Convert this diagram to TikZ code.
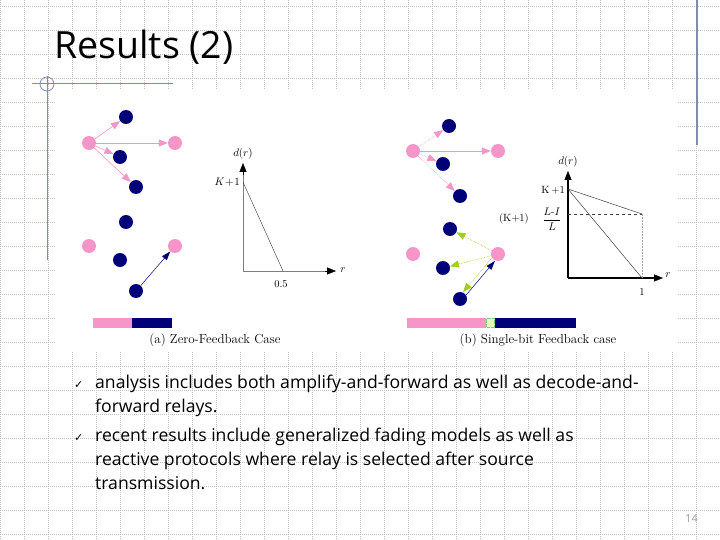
\documentclass[tikz,border=0pt]{standalone}
\usepackage{amsmath}
\usepackage{fontspec}
\usetikzlibrary{arrows.meta}
\newfontfamily\slidefont{Open Sans}
\newfontfamily\symfont{DejaVu Sans}
\definecolor{pnk}{RGB}{246,150,200}
\definecolor{nvy}{RGB}{0,0,120}
\definecolor{grn}{RGB}{160,205,30}
\definecolor{gridc}{RGB}{195,195,195}
\definecolor{rulec}{RGB}{125,140,175}
\definecolor{pagenum}{RGB}{160,160,160}
\begin{document}
\begin{tikzpicture}[x=1pt,y=-1pt,
  pnode/.style={circle,fill=pnk,minimum size=14pt,inner sep=0pt},
  nnode/.style={circle,fill=nvy,minimum size=14pt,inner sep=0pt},
  parr/.style={draw=pnk,line width=0.6pt,-{Triangle[length=9pt,width=7pt]}},
  pdarr/.style={draw=pnk,line width=0.6pt,densely dotted,-{Triangle[length=9pt,width=7pt]}},
  narr/.style={draw=nvy,line width=0.5pt,-{Triangle[length=9pt,width=6pt]}},
  garr/.style={draw=grn,line width=0.6pt,densely dotted,-{Triangle[length=9pt,width=7pt]}},
  axtip/.style={-{Triangle[length=9pt,width=7pt]}},
  plottxt/.style={font=\fontsize{10.5}{12}\selectfont,inner sep=1pt},
  captxt/.style={font=\fontsize{13}{15}\selectfont,inner sep=0pt},
  bodytxt/.style={anchor=base west,inner sep=0pt,font=\slidefont\fontsize{17.6}{20}\selectfont},
  chk/.style={anchor=base west,inner sep=0pt,font=\symfont\fontsize{11}{13}\selectfont}]
\useasboundingbox (0,0) rectangle (720,540);
\fill[white] (0,0) rectangle (720,540);
% background grid
\begin{scope}[gridc,line width=0.5pt,dash pattern=on 1pt off 1pt]
\foreach \gx in {0,24,...,720} \draw (\gx,0) -- (\gx,540);
\foreach \gy in {6,30,...,534} \draw (0,\gy) -- (720,\gy);
\end{scope}
% picture area
\fill[white] (55,90) rectangle (677,352);
% rules
\draw[rulec,line width=1pt] (32,84) -- (173,84);
\draw[rulec,line width=1pt] (47,76) -- (47,260);
\draw[rulec,line width=0.8pt] (47,84) circle (7);
\draw[rulec,line width=1.2pt] (697,0) -- (697,145);
% title
\node[anchor=base west,inner sep=0pt,font=\slidefont\fontsize{37.5}{44}\selectfont] (title) at (54,59) {Results (2)};

% ---------- panel (a) ----------
\node[nnode] (a1) at (126,117) {};
\node[nnode] (a2) at (120,157) {};
\node[nnode] (a3) at (136,187) {};
\node[nnode] (a4) at (126,222) {};
\node[nnode] (a5) at (120,260) {};
\node[nnode] (a6) at (136,291) {};
\node[pnode] (as) at (89,143) {};
\node[pnode] (ad) at (175,143) {};
\node[pnode] (as2) at (89,246) {};
\node[pnode] (ad2) at (175,246) {};
\draw[parr] (as) -- (a1);
\draw[parr] (as) -- (ad);
\draw[parr] (as) -- (a2);
\draw[parr] (as) -- (a3);
\draw[narr] (a6) -- (ad2);
% plot (a)
\coordinate (oa) at (243,271);
\coordinate (ya) at (243,163);
\coordinate (xa) at (336,271);
\coordinate (ka) at (243,182);
\coordinate (ha) at (283,271);
\draw[gray,line width=0.5pt] (oa) -- (243,172);
\draw[gray,line width=0.5pt] (oa) -- (327,271);
\draw[axtip,line width=0.3pt] (243,175) -- (ya);
\draw[axtip,line width=0.3pt] (325,271) -- (xa);
\draw[line width=0.4pt,black!80] (ka) -- (ha);
\node[plottxt] (dra) at (243,154) {$d(r)$};
\node[plottxt,anchor=east] (kla) at (241,182) {$K\!+\!1$};
\node[plottxt] (hla) at (281,284) {0.5};
\node[plottxt] (rla) at (343,270) {$r$};
% bar (a)
\fill[pnk] (93,318) rectangle (132,328);
\fill[nvy] (132,318) rectangle (172,328);
\node[captxt] (capa) at (215,340) {(a) Zero-Feedback Case};

% ---------- panel (b) ----------
\node[nnode] (b1) at (449,126) {};
\node[nnode] (b2) at (443,164) {};
\node[nnode] (b3) at (460,196) {};
\node[nnode] (b4) at (450,229) {};
\node[nnode] (b5) at (443,268) {};
\node[nnode] (b6) at (460,299) {};
\node[pnode] (bs) at (413,151) {};
\node[pnode] (bd) at (498,151) {};
\node[pnode] (bs2) at (413,254) {};
\node[pnode] (bd2) at (498,254) {};
\draw[pdarr] (bs) -- (b1);
\draw[parr] (bs) -- (bd);
\draw[pdarr] (bs) -- (b2);
\draw[pdarr] (bs) -- (b3);
\draw[garr] (bd2) -- (b4);
\draw[garr] (bd2) -- (b5);
\draw[garr,transform canvas={shift={(-1.5,-1.5)}}] (bd2) -- (b6);
\draw[narr,transform canvas={shift={(1.5,1.5)}}] (b6) -- (bd2);
% plot (b)
\coordinate (ob) at (568,278);
\coordinate (yb) at (568,171);
\coordinate (xb) at (663,278);
\coordinate (kb) at (568,189);
\coordinate (mb) at (642,214);
\coordinate (eb) at (642,278);
\coordinate (lb) at (568,214);
\draw[line width=1.2pt] (ob) -- (568,180);
\draw[line width=1.2pt] (ob) -- (654,278);
\draw[axtip,line width=0.3pt] (568,182) -- (yb);
\draw[axtip,line width=0.3pt] (652,278) -- (xb);
\draw[line width=0.5pt,black!75] (kb) -- (mb);
\draw[line width=0.5pt,black!75] (kb) -- (eb);
\draw[line width=0.5pt,black!75,dashed] (lb) -- (mb);
\draw[line width=0.5pt,black!35,densely dotted] (mb) -- (eb);
\node[plottxt] (drb) at (568,162) {$d(r)$};
\node[plottxt,anchor=east] (klb) at (566,190) {K\,+1};
\node[plottxt,anchor=east] (klb2) at (530,219) {(K+1)};
\node[plottxt] (frb) at (552,219) {$\dfrac{L\text{-}I}{L}$};
\node[plottxt] (onb) at (642,292) {1};
\node[plottxt] (rlb) at (668,275) {$r$};
% bar (b)
\fill[pnk] (407,318) rectangle (486,328);
\fill[green!50!yellow!25] (486,318) rectangle (495,328);
\draw[green!60!black!50,densely dotted,line width=0.3pt] (486.5,318.5) rectangle (494.5,327.5);
\fill[nvy] (495,318) rectangle (576,328);
\node[captxt] (capb) at (538,340) {(b) Single-bit Feedback case};

% ---------- bullet text ----------
\node[chk] (c1) at (74,388) {✓};
\node[bodytxt] (t1) at (95,388) {analysis includes both amplify-and-forward as well as decode-and-};
\node[bodytxt] (t2) at (95,412) {forward relays.};
\node[chk] (c2) at (74,441) {✓};
\node[bodytxt] (t3) at (95,441) {recent results include generalized fading models as well as};
\node[bodytxt] (t4) at (95,465) {reactive protocols where relay is selected after source};
\node[bodytxt] (t5) at (95,489) {transmission.};
\node[anchor=base east,inner sep=0pt,text=pagenum,font=\slidefont\fontsize{11}{13}\selectfont] (pg) at (698,522) {14};
\end{tikzpicture}
\end{document}
